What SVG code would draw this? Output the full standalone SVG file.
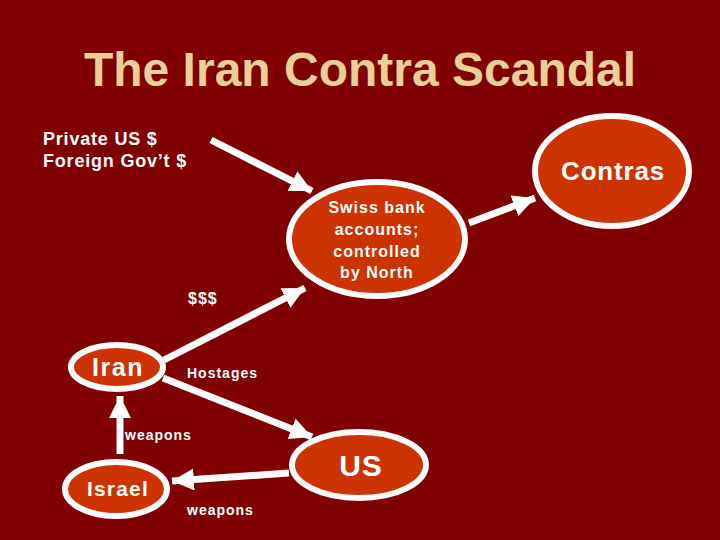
<svg xmlns="http://www.w3.org/2000/svg" width="720" height="540" viewBox="0 0 720 540">
<defs>
<marker id="ah" markerUnits="userSpaceOnUse" markerWidth="24" markerHeight="22" refX="22" refY="11" orient="auto">
<path d="M0,0 L22,11 L0,22 Z" fill="#ffffff"/>
</marker>
<style>
.node ellipse{fill:#cc3300;stroke:#ffffff;stroke-width:6}
.t{font-family:"Liberation Sans",Arial,sans-serif;font-weight:bold;fill:#ffffff}
.c{stroke:#ffffff;stroke-width:7;fill:none;marker-end:url(#ah)}
.lbl{font-size:14px;letter-spacing:1px}
</style>
</defs>
<rect width="720" height="540" fill="#800000"/>
<text x="360" y="86" text-anchor="middle" font-family="Liberation Sans, Arial, sans-serif" font-weight="bold" font-size="48" fill="#e9cf98">The Iran Contra Scandal</text>
<g id="sources">
<text class="t" x="43" y="145" font-size="18" letter-spacing="0.8">Private US $</text>
<text class="t" x="43" y="167" font-size="18" letter-spacing="0.8">Foreign Gov’t $</text>
</g>
<g id="connectors">
<line class="c" x1="211" y1="140" x2="312" y2="191"/>
<line class="c" x1="469" y1="223" x2="535" y2="198"/>
<line class="c" x1="164" y1="360" x2="305" y2="288"/>
<line class="c" x1="163" y1="378" x2="312" y2="437"/>
<line class="c" x1="120" y1="454" x2="120" y2="396"/>
<line class="c" x1="289" y1="473" x2="172" y2="481"/>
<text class="t" x="188" y="304" font-size="16" letter-spacing="1">$$$</text>
<text class="t lbl" x="187" y="378">Hostages</text>
<text class="t lbl" x="125" y="440">weapons</text>
<text class="t lbl" x="187" y="515">weapons</text>
</g>
<g id="contras" class="node">
<ellipse cx="612" cy="171" rx="77" ry="55"/>
<text class="t" x="613" y="180" font-size="26" letter-spacing="0.8" text-anchor="middle">Contras</text>
</g>
<g id="swiss" class="node">
<ellipse cx="377" cy="239" rx="88" ry="57"/>
<text class="t" x="377" y="213" font-size="16" letter-spacing="1" text-anchor="middle">Swiss bank</text>
<text class="t" x="377" y="235" font-size="16" letter-spacing="1" text-anchor="middle">accounts;</text>
<text class="t" x="377" y="257" font-size="16" letter-spacing="1" text-anchor="middle">controlled</text>
<text class="t" x="377" y="278" font-size="16" letter-spacing="1" text-anchor="middle">by North</text>
</g>
<g id="iran" class="node">
<ellipse cx="117" cy="367" rx="46" ry="22"/>
<text class="t" x="118" y="376" font-size="25" letter-spacing="1.5" text-anchor="middle">Iran</text>
</g>
<g id="israel" class="node">
<ellipse cx="116" cy="489" rx="51" ry="27"/>
<text class="t" x="118" y="496" font-size="21" letter-spacing="1.2" text-anchor="middle">Israel</text>
</g>
<g id="us" class="node">
<ellipse cx="359" cy="465" rx="67" ry="33"/>
<text class="t" x="361" y="476" font-size="30" letter-spacing="1" text-anchor="middle">US</text>
</g>
</svg>
